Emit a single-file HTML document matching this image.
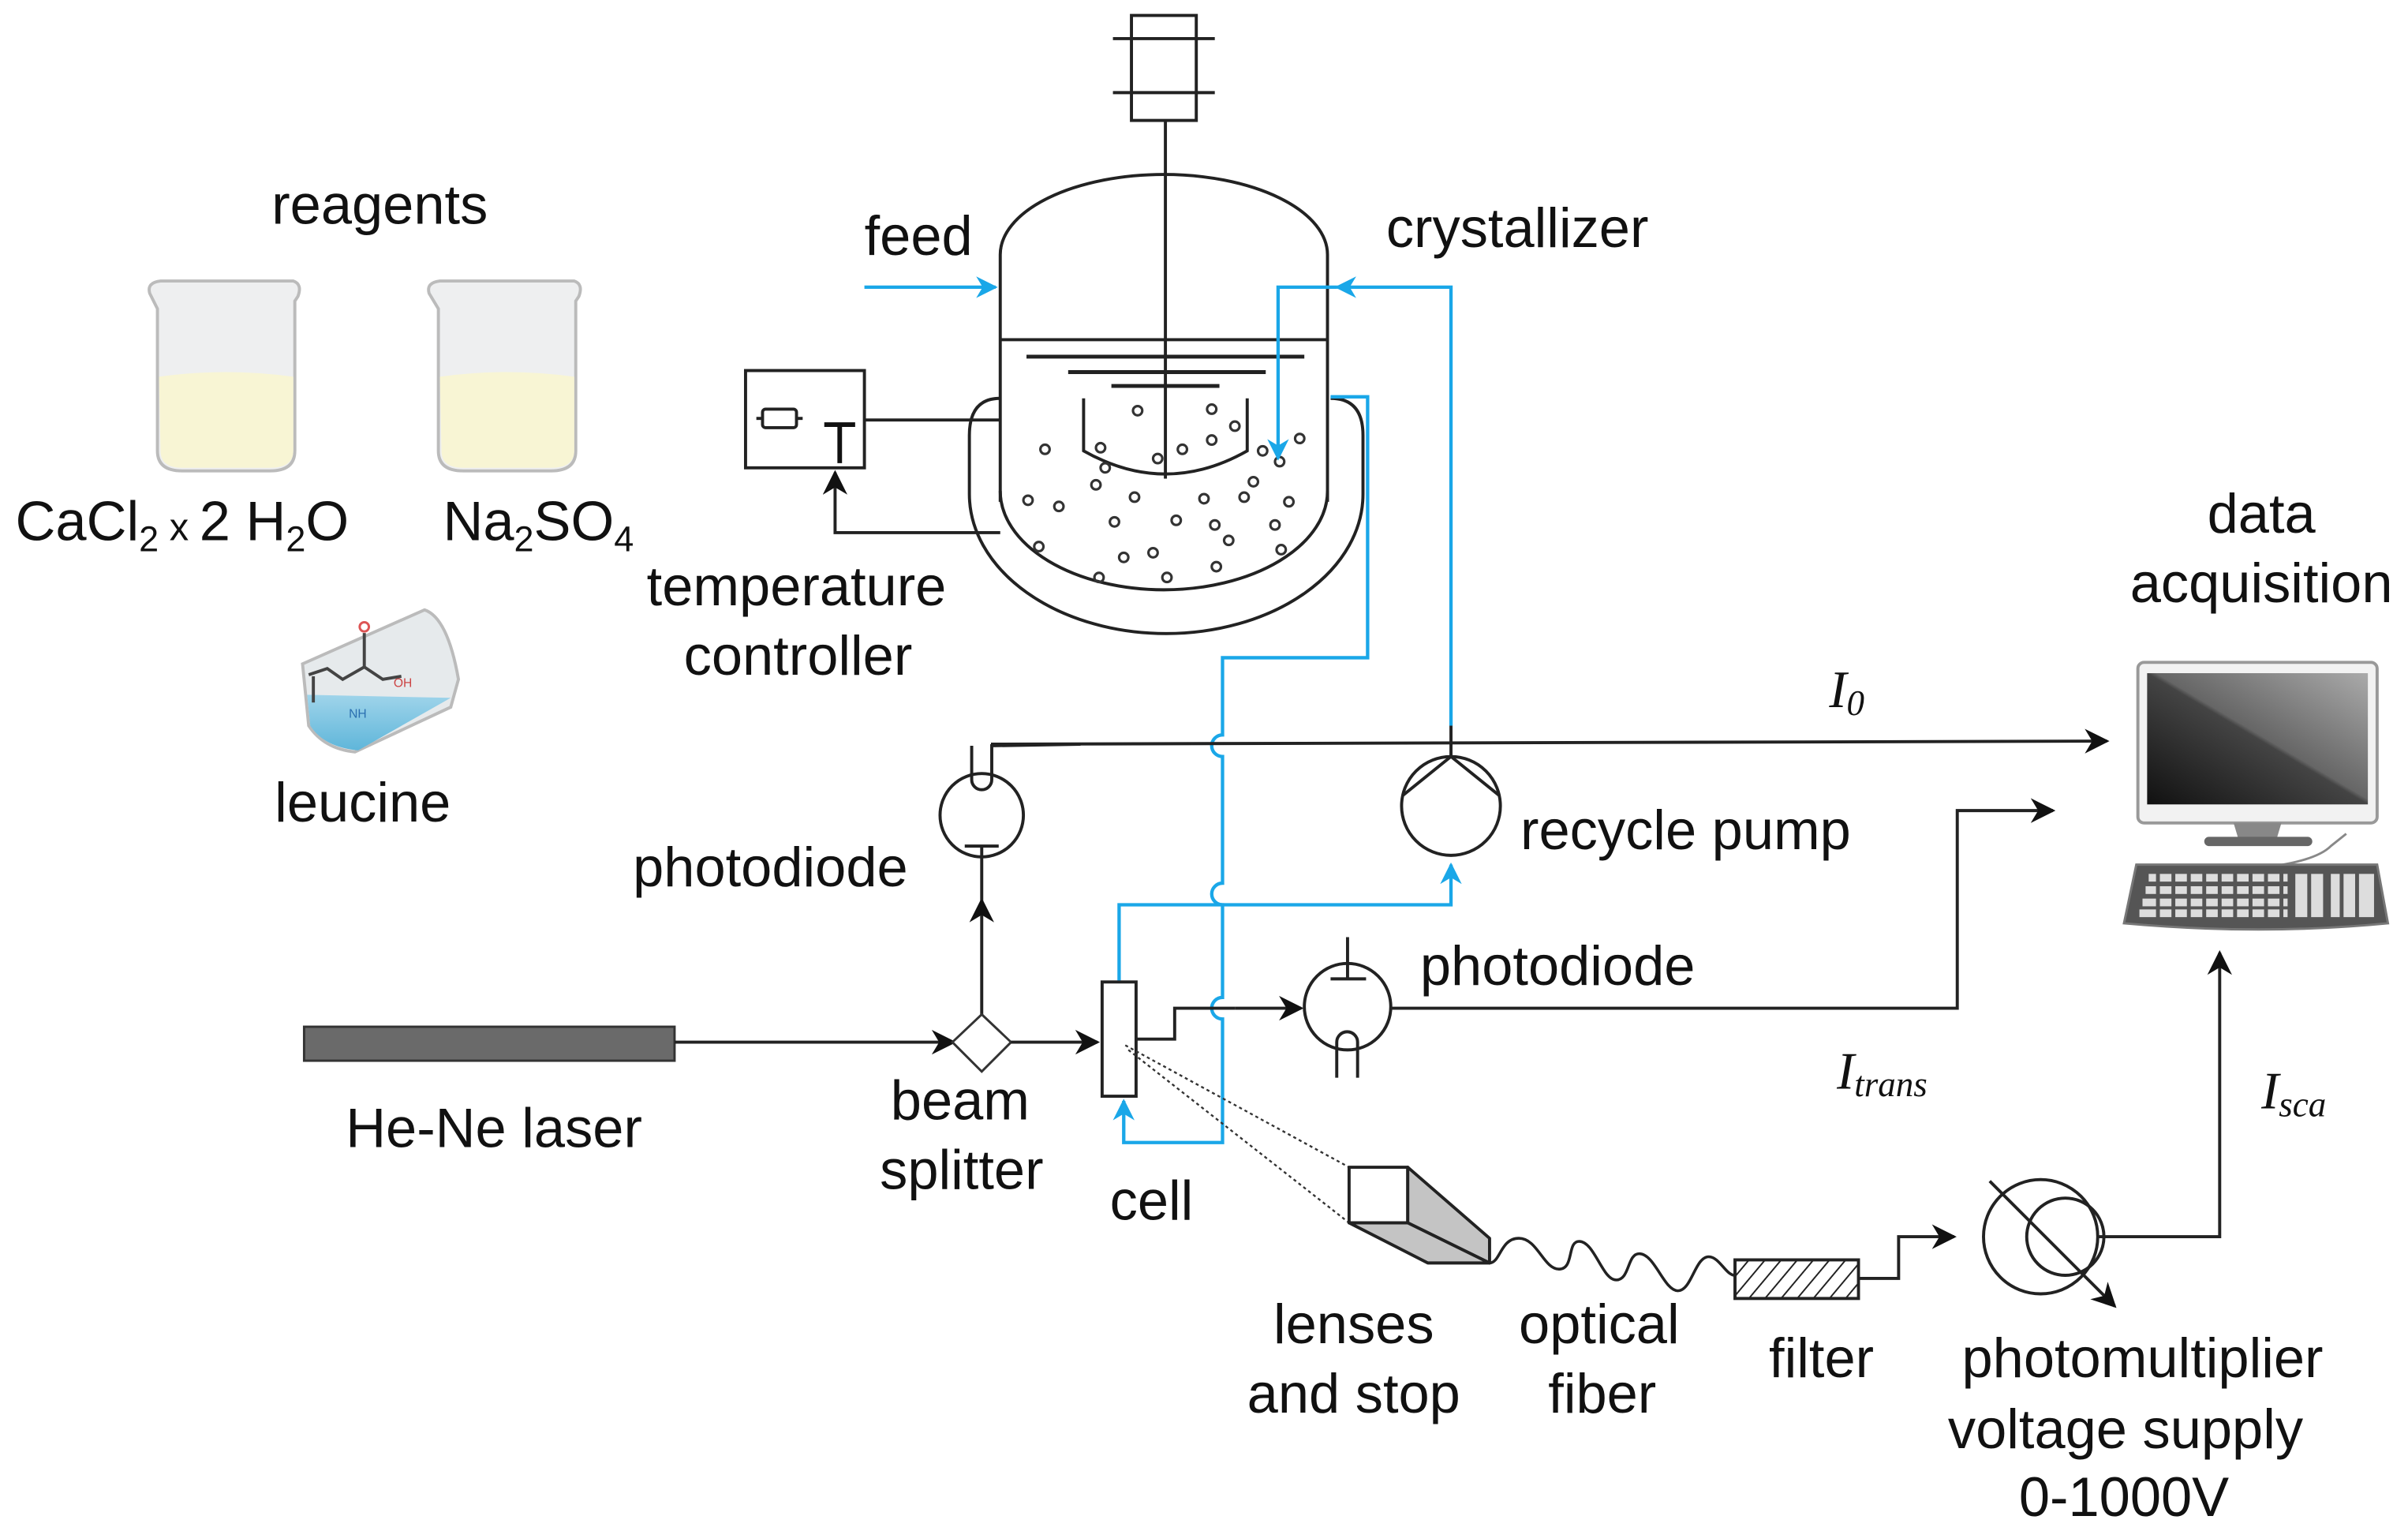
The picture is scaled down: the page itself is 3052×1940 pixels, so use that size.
<!DOCTYPE html>
<html><head><meta charset="utf-8"><style>
html,body{margin:0;padding:0;background:#fff;}
svg{display:block;}
text{font-family:"Liberation Sans",sans-serif;fill:#111;}
.it{font-family:"Liberation Serif",serif;font-style:italic;}
</style></head><body>
<svg width="3052" height="1940" viewBox="0 0 1560 991.6" preserveAspectRatio="none" xmlns="http://www.w3.org/2000/svg">
<defs>
<marker id="ab" viewBox="0 0 10 10" refX="9" refY="5" markerWidth="9" markerHeight="9" markerUnits="userSpaceOnUse" orient="auto"><path d="M0,0 L10,5 L0,10 L3,5 Z" fill="#111"/></marker>
<marker id="abl" viewBox="0 0 10 10" refX="9" refY="5" markerWidth="14" markerHeight="14" markerUnits="userSpaceOnUse" orient="auto"><path d="M0,0 L10,5 L0,10 L3,5 Z" fill="#1aa7e8"/></marker>
<marker id="abk" viewBox="0 0 10 10" refX="9" refY="5" markerWidth="16" markerHeight="16" markerUnits="userSpaceOnUse" orient="auto"><path d="M0,0 L10,5 L0,10 L3,5 Z" fill="#111"/></marker>
<pattern id="hatch" width="8" height="8" patternUnits="userSpaceOnUse" patternTransform="rotate(40)"><line x1="0" y1="0" x2="0" y2="8" stroke="#222" stroke-width="2"/></pattern>
<linearGradient id="scr" x1="0" y1="1" x2="1" y2="0"><stop offset="0" stop-color="#111"/><stop offset="0.5" stop-color="#444"/><stop offset="0.52" stop-color="#666"/><stop offset="1" stop-color="#aaa"/></linearGradient>
<linearGradient id="liq" x1="0" y1="0" x2="0" y2="1"><stop offset="0" stop-color="#9fd4ea"/><stop offset="1" stop-color="#5fb6da"/></linearGradient>
</defs>

<!-- beakers -->
<g>
<path d="M97,190 Q95,183 104,182 L190,182 Q196,184 193,192 L191,195 L191,292 Q191,305 175,305 L118,305 Q102,305 102,292 L102,200 Z" fill="#eeeff0" stroke="#bbb" stroke-width="2"/>
<path d="M103,244 Q146,238 190,244 L190,292 Q190,303 175,303 L118,303 Q104,303 104,292 Z" fill="#f8f5d4"/>
<path d="M278,190 Q276,183 285,182 L372,182 Q378,184 375,192 L373,195 L373,292 Q373,305 357,305 L300,305 Q284,305 284,292 L284,200 Z" fill="#eeeff0" stroke="#bbb" stroke-width="2"/>
<path d="M285,244 Q328,238 372,244 L372,292 Q372,303 357,303 L300,303 Q286,303 286,292 Z" fill="#f8f5d4"/>
</g>
<!-- leucine beaker -->
<g>
<path d="M196,430 L275,395 Q290,400 297,440 L292,458 L230,487 Q210,485 200,470 Z" fill="#e6eaec" stroke="#bbb" stroke-width="2"/>
<path d="M199,450 L292,452 L232,486 Q210,484 201,470 Z" fill="url(#liq)"/>
<path d="M200,437 L212,433 L222,440 L236,432 L248,440 L260,438" fill="none" stroke="#444" stroke-width="2"/>
<line x1="203" y1="438" x2="203" y2="455" stroke="#444" stroke-width="2"/>
<line x1="236" y1="432" x2="236" y2="410" stroke="#444" stroke-width="2"/>
<circle cx="236" cy="406" r="3" fill="none" stroke="#d55" stroke-width="1.5"/>
<text x="255" y="445" font-size="8" style="fill:#c44">OH</text>
<text x="226" y="465" font-size="8" style="fill:#2a6fb0">NH</text>
</g>

<!-- motor and shaft -->
<rect x="733" y="10" width="42" height="68" fill="none" stroke="#222" stroke-width="2"/>
<line x1="721" y1="25" x2="787" y2="25" stroke="#222" stroke-width="2"/>
<line x1="721" y1="60" x2="787" y2="60" stroke="#222" stroke-width="2"/>
<line x1="755" y1="78" x2="755" y2="310" stroke="#222" stroke-width="2"/>

<!-- vessel -->
<g fill="none" stroke="#222" stroke-width="2">
<path d="M648,325 L648,165 A106,52 0 0 1 860,165 L860,325"/>
<path d="M648,318 A106,64 0 0 0 860,318"/>
<line x1="648" y1="220" x2="860" y2="220"/>
<line x1="665" y1="231" x2="845" y2="231" stroke-width="2.5"/>
<line x1="692" y1="241" x2="820" y2="241" stroke-width="2.5"/>
<line x1="720" y1="250" x2="790" y2="250" stroke-width="2.5"/>
<path d="M702,258 L702,292 Q755,322 808,292 L808,258"/>
<path d="M648,258 Q628,258 628,282 L628,320 A127,90 0 0 0 883,320 L883,282 Q883,258 862,258"/>
</g>
<!-- particles -->
<g fill="none" stroke="#333" stroke-width="1.6">
<circle cx="737" cy="266" r="3"/><circle cx="785" cy="265" r="3"/><circle cx="800" cy="276" r="3"/><circle cx="785" cy="285" r="3"/>
<circle cx="842" cy="284" r="3"/><circle cx="677" cy="291" r="3"/><circle cx="713" cy="290" r="3"/><circle cx="716" cy="303" r="3"/>
<circle cx="750" cy="297" r="3"/><circle cx="766" cy="291" r="3"/><circle cx="818" cy="292" r="3"/><circle cx="829" cy="299" r="3"/>
<circle cx="710" cy="314" r="3"/><circle cx="666" cy="324" r="3"/><circle cx="686" cy="328" r="3"/><circle cx="735" cy="322" r="3"/>
<circle cx="780" cy="323" r="3"/><circle cx="806" cy="322" r="3"/><circle cx="835" cy="325" r="3"/><circle cx="812" cy="312" r="3"/>
<circle cx="722" cy="338" r="3"/><circle cx="762" cy="337" r="3"/><circle cx="787" cy="340" r="3"/><circle cx="826" cy="340" r="3"/>
<circle cx="673" cy="354" r="3"/><circle cx="796" cy="350" r="3"/><circle cx="830" cy="356" r="3"/><circle cx="728" cy="361" r="3"/>
<circle cx="747" cy="358" r="3"/><circle cx="788" cy="367" r="3"/><circle cx="712" cy="374" r="3"/><circle cx="756" cy="374" r="3"/>
</g>

<!-- temperature controller -->
<rect x="483" y="240" width="77" height="63" fill="none" stroke="#222" stroke-width="2"/>
<rect x="494" y="265" width="22" height="12" rx="2" fill="none" stroke="#222" stroke-width="2"/>
<line x1="490" y1="271" x2="494" y2="271" stroke="#222" stroke-width="2"/>
<line x1="516" y1="271" x2="520" y2="271" stroke="#222" stroke-width="2"/>
<line x1="534" y1="275" x2="554" y2="275" stroke="#111" stroke-width="3"/>
<line x1="544" y1="275" x2="544" y2="300" stroke="#111" stroke-width="3"/>
<polyline points="560,272 648,272" fill="none" stroke="#222" stroke-width="2"/>
<polyline points="648,345 541,345 541,306" fill="none" stroke="#222" stroke-width="2" marker-end="url(#abk)"/>

<!-- blue lines -->
<g fill="none" stroke="#1aa7e8" stroke-width="2.2">
<line x1="560" y1="186" x2="645" y2="186" marker-end="url(#abl)"/>
<polyline points="940,470 940,186 866,186" marker-end="url(#abl)"/>
<polyline points="866,186 828,186 828,297" marker-end="url(#abl)"/>
<path d="M862,257 L886,257 L886,426 L792,426 L792,476 A7,7 0 0 0 792,490 L792,572 A7,7 0 0 0 792,586 L792,646 A7,7 0 0 0 792,660 L792,740 L728,740 L728,713" marker-end="url(#abl)"/>
<polyline points="725,635 725,586 940,586 940,560" marker-end="url(#abl)"/>
</g>

<!-- photodiode 1 -->
<g fill="none" stroke="#222" stroke-width="2">
<circle cx="636" cy="528" r="27"/>
<path d="M629.5,483 L629.5,505 A6.5,6.5 0 0 0 642.5,505 L642.5,483 L700,482"/>
<line x1="642" y1="482" x2="1365" y2="480" marker-end="url(#abk)"/>
<line x1="625" y1="548" x2="647" y2="548"/>
<line x1="636" y1="548" x2="636" y2="555"/>
<line x1="636" y1="660" x2="636" y2="583" marker-end="url(#abk)"/>
<line x1="636" y1="583" x2="636" y2="555"/>
</g>

<!-- pump -->
<g fill="none" stroke="#222" stroke-width="2">
<circle cx="940" cy="522" r="32"/>
<polyline points="909,515 940,490 971,515"/>
<line x1="940" y1="470" x2="940" y2="490"/>
</g>

<!-- laser -->
<rect x="197" y="665" width="240" height="22" fill="#6a6a6a" stroke="#333" stroke-width="1.5"/>
<line x1="437" y1="675" x2="618" y2="675" stroke="#222" stroke-width="2" marker-end="url(#abk)"/>
<polygon points="636,657 655,675 636,694 617,675" fill="#fff" stroke="#333" stroke-width="1.5"/>
<line x1="655" y1="675" x2="711" y2="675" stroke="#222" stroke-width="2" marker-end="url(#abk)"/>

<!-- cell -->
<rect x="714" y="636" width="22" height="74" fill="#fff" stroke="#222" stroke-width="2"/>
<polyline points="736,673 761,673 761,653 800,653" fill="none" stroke="#222" stroke-width="2"/>
<line x1="800" y1="653" x2="843" y2="653" stroke="#222" stroke-width="2" marker-end="url(#abk)"/>
<line x1="729" y1="677" x2="874" y2="756" stroke="#333" stroke-width="1.2" stroke-dasharray="2,2"/>
<line x1="731" y1="680" x2="874" y2="792" stroke="#333" stroke-width="1.2" stroke-dasharray="2,2"/>

<!-- photodiode 2 -->
<g fill="none" stroke="#222" stroke-width="2">
<circle cx="873" cy="652" r="28"/>
<line x1="873" y1="607" x2="873" y2="634"/>
<line x1="862" y1="634" x2="885" y2="634"/>
<path d="M866,698 L866,675 A6.7,6.7 0 0 1 879.5,675 L879.5,698"/>
<polyline points="901,653 1268,653 1268,525 1330,525" marker-end="url(#abk)"/>
</g>

<!-- lens box -->
<g stroke="#222" stroke-width="2" stroke-linejoin="round">
<rect x="874" y="756" width="38" height="36" fill="#fff"/>
<polygon points="912,756 965,802 965,818 912,792" fill="#c4c4c4"/>
<polygon points="874,792 912,792 965,818 925,818" fill="#c4c4c4"/>
</g>
<path d="M965,818 C972,818 972,802 984,802 C996,802 1000,822 1010,822 C1020,822 1015,804 1023,804 C1033,804 1038,829 1047,829 C1056,829 1054,812 1062,812 C1072,812 1078,836 1087,836 C1096,836 1098,814 1107,814 C1114,814 1118,826 1124,826" fill="none" stroke="#222" stroke-width="1.8"/>
<rect x="1124" y="816" width="80" height="25" fill="url(#hatch)" stroke="#222" stroke-width="2"/>
<polyline points="1204,828 1230,828 1230,801 1266,801" fill="none" stroke="#222" stroke-width="2" marker-end="url(#abk)"/>

<!-- photomultiplier -->
<g fill="none" stroke="#222" stroke-width="2">
<circle cx="1322" cy="801" r="37"/>
<circle cx="1338" cy="801" r="25"/>
<line x1="1289" y1="765" x2="1370" y2="846" marker-end="url(#abk)"/>
<polyline points="1359,801 1438,801 1438,617" marker-end="url(#abk)"/>
</g>

<!-- computer -->
<g>
<rect x="1385" y="429" width="155" height="104" rx="4" fill="#f2f2f2" stroke="#999" stroke-width="2"/>
<rect x="1391" y="436" width="143" height="85" fill="url(#scr)"/>
<path d="M1447,533 L1478,533 L1475,543 L1450,543 Z" fill="#888"/>
<rect x="1428" y="542" width="70" height="6" rx="3" fill="#666"/>
<path d="M1465,562 Q1500,558 1510,548 L1520,540" fill="none" stroke="#888" stroke-width="1.5"/>
<path d="M1384,560 L1540,560 L1547,598 Q1465,606 1376,598 Z" fill="#555" stroke="#777" stroke-width="1.5"/>
<g fill="#ddd">
<rect x="1392" y="566" width="90" height="5"/><rect x="1390" y="574" width="92" height="5"/><rect x="1388" y="582" width="94" height="5"/><rect x="1386" y="589" width="96" height="5"/>
<rect x="1487" y="566" width="18" height="28"/><rect x="1510" y="566" width="28" height="28"/>
</g>
<g stroke="#555" stroke-width="2.5">
<line x1="1398" y1="564" x2="1398" y2="596"/><line x1="1408" y1="564" x2="1408" y2="596"/><line x1="1418" y1="564" x2="1418" y2="596"/><line x1="1428" y1="564" x2="1428" y2="596"/><line x1="1438" y1="564" x2="1438" y2="596"/><line x1="1448" y1="564" x2="1448" y2="596"/><line x1="1458" y1="564" x2="1458" y2="596"/><line x1="1468" y1="564" x2="1468" y2="596"/><line x1="1478" y1="564" x2="1478" y2="596"/><line x1="1496" y1="564" x2="1496" y2="596"/><line x1="1517" y1="564" x2="1517" y2="596"/><line x1="1527" y1="564" x2="1527" y2="596"/>
</g>
</g>

<!-- labels -->
<g font-size="36">
<text x="246" y="145" text-anchor="middle">reagents</text>
<text x="10" y="350">CaCl<tspan font-size="23" dy="7">2</tspan><tspan font-size="25" dy="-7"> x </tspan>2 H<tspan font-size="23" dy="7">2</tspan><tspan dy="-7">O</tspan></text>
<text x="287" y="350">Na<tspan font-size="23" dy="7">2</tspan><tspan dy="-7">SO</tspan><tspan font-size="23" dy="7">4</tspan></text>
<text x="235" y="532" text-anchor="middle">leucine</text>
<text x="516" y="392" text-anchor="middle">temperature</text>
<text x="517" y="437" text-anchor="middle">controller</text>
<text x="560" y="165">feed</text>
<text x="898" y="160">crystallizer</text>
<text x="1465" y="345" text-anchor="middle">data</text>
<text x="1465" y="390" text-anchor="middle">acquisition</text>
<text x="410" y="574">photodiode</text>
<text x="985" y="550">recycle pump</text>
<text x="920" y="638">photodiode</text>
<text x="320" y="743" text-anchor="middle">He-Ne laser</text>
<text x="622" y="725" text-anchor="middle">beam</text>
<text x="623" y="770" text-anchor="middle">splitter</text>
<text x="746" y="790" text-anchor="middle">cell</text>
<text x="877" y="870" text-anchor="middle">lenses</text>
<text x="877" y="915" text-anchor="middle">and stop</text>
<text x="1036" y="870" text-anchor="middle">optical</text>
<text x="1038" y="915" text-anchor="middle">fiber</text>
<text x="1180" y="892" text-anchor="middle">filter</text>
<text x="1388" y="892" text-anchor="middle">photomultiplier</text>
<text x="1377" y="938" text-anchor="middle">voltage supply</text>
<text x="1376" y="982" text-anchor="middle">0-1000V</text>
</g>
<text class="it" x="1185" y="458" font-size="34">I<tspan font-size="23" dy="5">0</tspan></text>
<text class="it" x="1190" y="705" font-size="34">I<tspan font-size="23" dy="5">trans</tspan></text>
<text class="it" x="1465" y="718" font-size="34">I<tspan font-size="23" dy="5">sca</tspan></text>
</svg>
</body></html>
